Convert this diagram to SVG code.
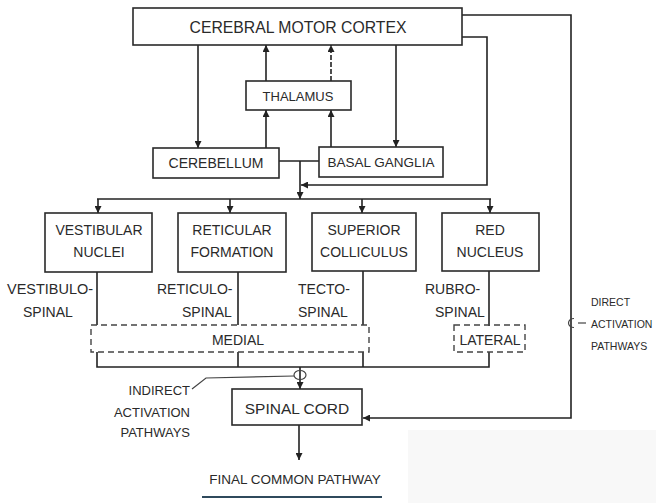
<svg xmlns="http://www.w3.org/2000/svg" width="656" height="503" viewBox="0 0 656 503">
<defs>
<marker id="ah" viewBox="0 0 10 10" refX="10" refY="5" markerWidth="7" markerHeight="7" markerUnits="userSpaceOnUse" orient="auto">
<path d="M0,0 L10,5 L0,10 z" fill="#222"/>
</marker>
</defs>
<style>
.box{fill:#fff;stroke:#2a2a2a;stroke-width:1.6}
.dbox{fill:none;stroke:#444;stroke-width:1.4;stroke-dasharray:6 4}
.ln{fill:none;stroke:#222;stroke-width:1.6}
.thin{fill:none;stroke:#444;stroke-width:1.2}
.arr{fill:none;stroke:#222;stroke-width:1.6;marker-end:url(#ah)}
text{font-family:"Liberation Sans",Arial,sans-serif;fill:#2a2a2a;font-size:14px}
.c{text-anchor:middle}
.e{text-anchor:end}
.d{font-size:10.5px}
</style>
<rect width="656" height="503" fill="#fff"/>
<rect x="408" y="430" width="248" height="73" fill="#f8f8f8"/>

<g id="connectors">
<line class="arr" x1="198" y1="45" x2="198" y2="148"/>
<line class="arr" x1="396" y1="45" x2="396" y2="147"/>
<line class="arr" x1="266" y1="81" x2="266" y2="45"/>
<line class="arr" x1="331" y1="81" x2="331" y2="45" stroke-dasharray="5 2"/>
<line class="arr" x1="266" y1="148" x2="266" y2="110"/>
<line class="arr" x1="331" y1="147" x2="331" y2="110"/>
<line class="ln" x1="279" y1="161" x2="319" y2="161"/>
<line class="arr" x1="300" y1="161" x2="300" y2="199"/>
<polyline class="arr" points="462,37 487,37 487,185 301,185"/>
<line class="ln" x1="97" y1="199" x2="491" y2="199"/>
<line class="arr" x1="98" y1="199" x2="98" y2="213"/>
<line class="arr" x1="230" y1="199" x2="230" y2="213"/>
<line class="arr" x1="362" y1="199" x2="362" y2="213"/>
<line class="arr" x1="490" y1="199" x2="490" y2="213"/>
<line class="ln" x1="97" y1="272" x2="97" y2="325"/>
<line class="ln" x1="238" y1="272" x2="238" y2="325"/>
<line class="ln" x1="363" y1="271" x2="363" y2="325"/>
<line class="ln" x1="489" y1="271" x2="489" y2="326"/>
<polyline class="ln" points="97,352 97,367 489,367 489,352"/>
<line class="ln" x1="238" y1="352" x2="238" y2="367"/>
<line class="ln" x1="363" y1="352" x2="363" y2="367"/>
<line class="arr" x1="300" y1="367" x2="300" y2="389"/>
<ellipse cx="300" cy="375" rx="6" ry="4.5" class="thin"/>
<polyline class="thin" points="192,389 206,378 294,376"/>
<polyline class="arr" points="462,15 571,15 571,418 363,418"/>
<path class="thin" d="M574,318.5 A5.5,4.5 0 1 0 574,327.5"/>
<line class="thin" x1="578" y1="323" x2="586" y2="323"/>
<line class="arr" x1="299" y1="425" x2="299" y2="460"/>
</g>

<g id="cortex">
<rect class="box" x="133" y="8" width="329" height="37"/>
<text class="c" x="298" y="33" textLength="217" lengthAdjust="spacingAndGlyphs" style="font-size:16px">CEREBRAL MOTOR CORTEX</text>
</g>
<g id="thalamus">
<rect class="box" x="246" y="81" width="105" height="29"/>
<text class="c" x="298" y="101" style="font-size:13px">THALAMUS</text>
</g>
<g id="cerebellum">
<rect class="box" x="153" y="148" width="126" height="30"/>
<text class="c" x="216" y="168">CEREBELLUM</text>
</g>
<g id="basal-ganglia">
<rect class="box" x="319" y="147" width="124" height="30"/>
<text class="c" x="381" y="167" style="font-size:13.5px">BASAL GANGLIA</text>
</g>
<g id="vestibular">
<rect class="box" x="45" y="213" width="107" height="59"/>
<text class="c" x="99" y="235">VESTIBULAR</text>
<text class="c" x="99" y="257">NUCLEI</text>
</g>
<g id="reticular">
<rect class="box" x="178" y="213" width="108" height="59"/>
<text class="c" x="232" y="235">RETICULAR</text>
<text class="c" x="232" y="257">FORMATION</text>
</g>
<g id="superior">
<rect class="box" x="312" y="213" width="104" height="58"/>
<text class="c" x="364" y="235">SUPERIOR</text>
<text class="c" x="364" y="257">COLLICULUS</text>
</g>
<g id="red">
<rect class="box" x="442" y="213" width="97" height="58"/>
<text class="c" x="490" y="235">RED</text>
<text class="c" x="490" y="257">NUCLEUS</text>
</g>
<g id="tract-labels">
<text x="7" y="294" textLength="86" lengthAdjust="spacingAndGlyphs">VESTIBULO-</text>
<text x="23" y="317">SPINAL</text>
<text x="157" y="294">RETICULO-</text>
<text x="182" y="317">SPINAL</text>
<text x="298" y="294">TECTO-</text>
<text x="298" y="317">SPINAL</text>
<text x="425" y="294">RUBRO-</text>
<text x="435" y="317">SPINAL</text>
</g>
<g id="medial">
<rect class="dbox" x="91" y="325" width="278" height="27"/>
<text class="c" x="238" y="345">MEDIAL</text>
</g>
<g id="lateral">
<rect class="dbox" x="454" y="325" width="71" height="27"/>
<text class="c" x="490" y="345">LATERAL</text>
</g>
<g id="indirect-label">
<text class="e" x="190" y="395" style="font-size:13px">INDIRECT</text>
<text class="e" x="190" y="417" style="font-size:13px">ACTIVATION</text>
<text class="e" x="190" y="437" style="font-size:13px">PATHWAYS</text>
</g>
<g id="direct-label">
<text class="d" x="591" y="306">DIRECT</text>
<text class="d" x="591" y="328">ACTIVATION</text>
<text class="d" x="591" y="350">PATHWAYS</text>
</g>
<g id="spinal-cord">
<rect class="box" x="232" y="389" width="130" height="36"/>
<text class="c" x="297" y="414" style="font-size:15.5px">SPINAL CORD</text>
</g>
<g id="final">
<text class="c" x="295" y="484" style="font-size:13.5px">FINAL COMMON PATHWAY</text>
<line x1="202" y1="497" x2="382" y2="497" stroke="#2f4a5c" stroke-width="2"/>
</g>
</svg>
